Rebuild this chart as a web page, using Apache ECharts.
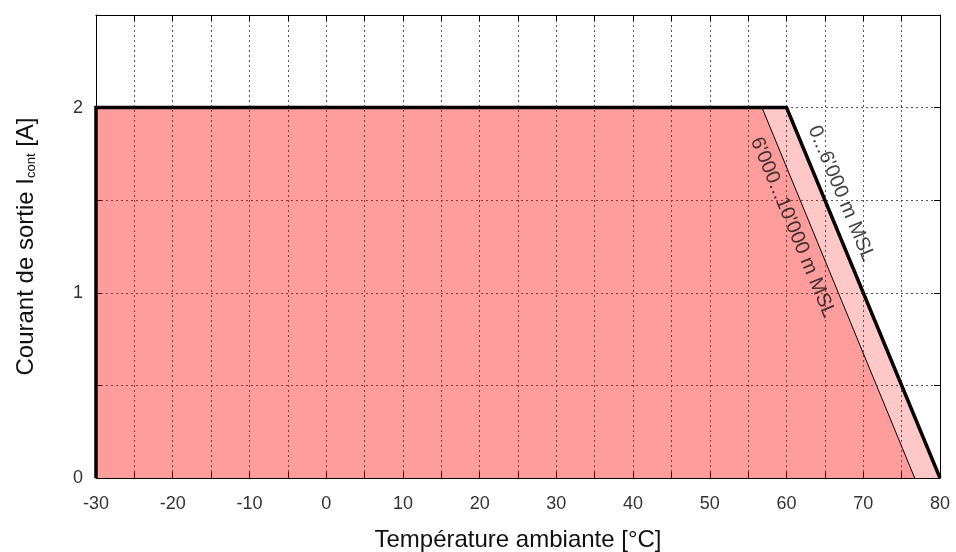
<!DOCTYPE html>
<html>
<head>
<meta charset="utf-8">
<script src="https://cdn.jsdelivr.net/npm/echarts@6/dist/echarts.min.js"></script>
<style>html,body{margin:0;padding:0;background:#fff;}#c{width:956px;height:552px;}</style>
</head>
<body>
<div id="c"></div>
<script>
// Derating curve 0...6'000 m MSL
const tempOuter = [-30, -30, 60, 80];
const currentOuter = [0, 2, 2, 0];
// Derating curve 6'000...10'000 m MSL
const tempInner = [-30, -30, 56.8, 76.7];
const currentInner = [0, 2, 2, 0];
// Curve labels
const labelTexts = ["0...6'000 m MSL", "6'000...10'000 m MSL"];
const labelTemps = [67.1, 60.8];
const labelCurrents = [1.536, 1.353];
// Tick labels
const xTickLabels = [-30, -20, -10, 0, 10, 20, 30, 40, 50, 60, 70, 80];
const yTickLabels = [0, 1, 2];

const zip = (a, b) => a.map((v, i) => [v, b[i]]);
const font = 'Liberation Sans, Arial, sans-serif';
const fill = 'rgba(255,0,0,0.216)';

const chart = echarts.init(document.getElementById('c'));
const gridLine = { show: true, lineStyle: { type: [2, 3], color: '#555', width: 1 } };
chart.setOption({
  animation: false,
  backgroundColor: '#fff',
  grid: { left: 96, right: 16, top: 15, bottom: 74, containLabel: false, outerBoundsMode: 'none' },
  xAxis: [{
    type: 'value', min: -30, max: 80, interval: 5, position: 'bottom',
    axisLine: { show: true, onZero: false, lineStyle: { color: '#000', width: 1 } },
    axisTick: { show: true, inside: true, length: 6, lineStyle: { color: '#000' } },
    axisLabel: { color: '#333', fontFamily: font, fontSize: 18, margin: 17,
      formatter: v => xTickLabels.includes(v) ? String(v) : '' },
    splitLine: gridLine,
    name: 'Température ambiante [°C]', nameLocation: 'middle', nameGap: 50,
    nameTextStyle: { color: '#111', fontFamily: font, fontSize: 24 }
  }, {
    type: 'value', min: -30, max: 80, interval: 5, position: 'top',
    axisLine: { show: true, onZero: false, lineStyle: { color: '#000', width: 1 } },
    axisTick: { show: true, inside: true, length: 6, lineStyle: { color: '#000' } },
    axisLabel: { show: false }, splitLine: { show: false }
  }],
  yAxis: [{
    type: 'value', min: 0, max: 2.5, interval: 0.5, position: 'left',
    axisLine: { show: true, onZero: false, lineStyle: { color: '#000', width: 1 } },
    axisTick: { show: true, inside: true, length: 6, lineStyle: { color: '#000' } },
    axisLabel: { color: '#333', fontFamily: font, fontSize: 18, margin: 13,
      formatter: v => yTickLabels.includes(v) ? String(v) : '' },
    splitLine: gridLine,
    name: 'Courant de sortie I{sub|cont} [A]', nameLocation: 'middle', nameGap: 58,
    nameTextStyle: { color: '#111', fontFamily: font, fontSize: 24,
      rich: { sub: { fontFamily: font, fontSize: 13, padding: [10, 0, 0, 0], color: '#111' } } }
  }, {
    type: 'value', min: 0, max: 2.5, interval: 0.5, position: 'right',
    axisLine: { show: true, onZero: false, lineStyle: { color: '#000', width: 1 } },
    axisTick: { show: true, inside: true, length: 6, lineStyle: { color: '#000' } },
    axisLabel: { show: false }, splitLine: { show: false }
  }],
  series: [
    { type: 'line', data: zip(tempOuter, currentOuter), symbol: 'none', z: 2,
      lineStyle: { width: 0 }, areaStyle: { color: fill, opacity: 1 } },
    { type: 'line', data: zip(tempInner, currentInner), symbol: 'none', z: 3,
      lineStyle: { width: 1, color: '#000' }, areaStyle: { color: fill, opacity: 1 } },
    { type: 'line', data: zip(tempOuter, currentOuter), symbol: 'none', z: 4,
      lineStyle: { width: 3.5, color: '#000', join: 'miter' } },
    { type: 'scatter', data: zip(labelTemps, labelCurrents), symbolSize: 0, z: 5,
      label: { show: true, position: 'inside', rotate: -67.5, color: '#111',
        fontFamily: font, fontSize: 20,
        formatter: p => labelTexts[p.dataIndex] } }
  ]
});
</script>
</body>
</html>
